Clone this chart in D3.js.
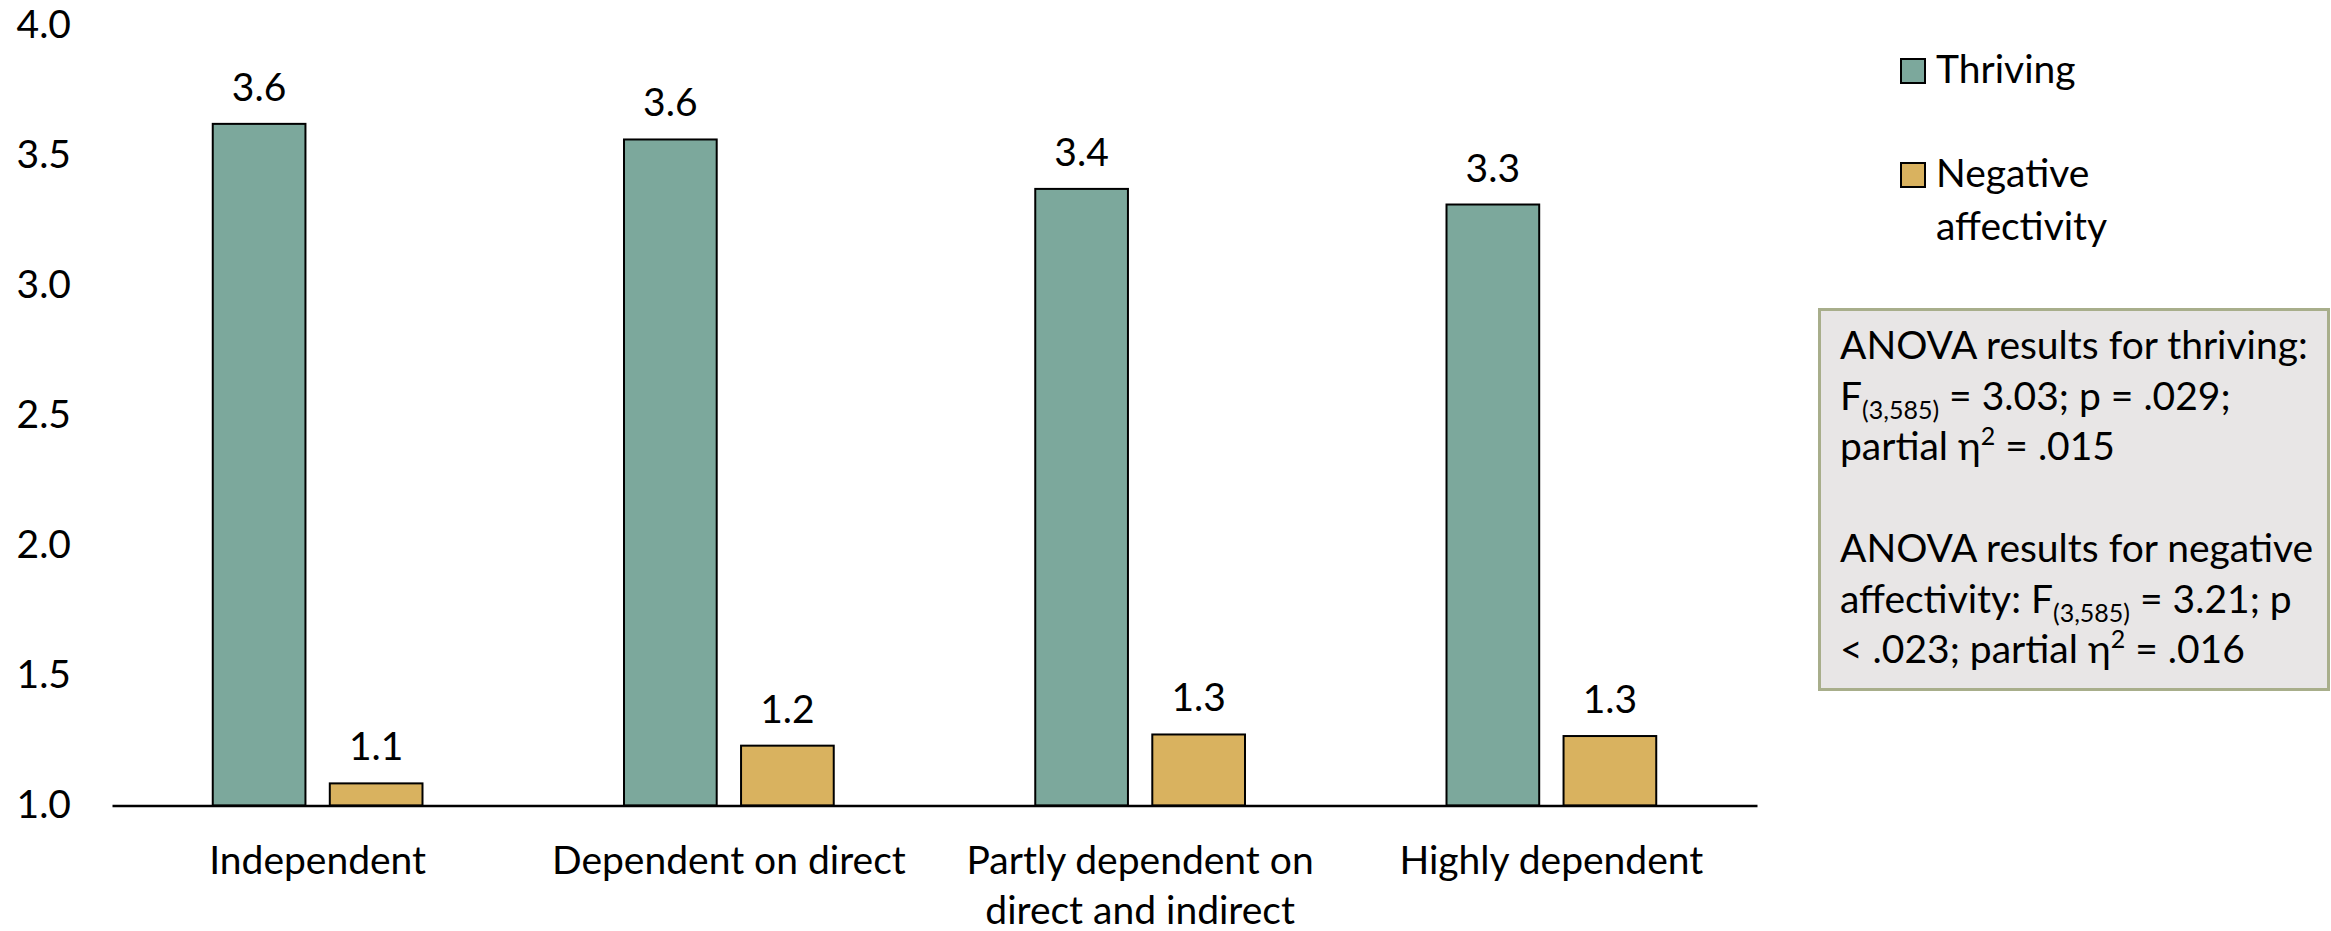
<!DOCTYPE html>
<html>
<head>
<meta charset="utf-8">
<script src="https://cdn.jsdelivr.net/npm/d3@7"></script>
<style>
  body { margin: 0; background: #fff; }
  svg text { font-family: Lato, "Open Sans", sans-serif; fill: #000; }
</style>
</head>
<body>
<div id="wrapper"></div>
<script>
// data
const categories = ["Independent", "Dependent on direct", "Partly dependent on direct and indirect", "Highly dependent"];
const categoryLines = [["Independent"], ["Dependent on direct"], ["Partly dependent on", "direct and indirect"], ["Highly dependent"]];
const series = ["Thriving", "Negative affectivity"];
const thriving = [3.62, 3.56, 3.37, 3.31];
const negativeAffectivity = [1.085, 1.23, 1.273, 1.267];
const yTicks = [1.0, 1.5, 2.0, 2.5, 3.0, 3.5, 4.0];
const legendLines = [["Thriving"], ["Negative", "affectivity"]];
// annotation text: [text, kind] pieces per line
const annotationLines = [
  [["ANOVA results for thriving:"]],
  [["F"], ["(3,585)", "sub"], [" = 3.03; p = .029;"]],
  [["partial η"], ["2", "sup"], [" = .015"]],
  [],
  [["ANOVA results for negative"]],
  [["affectivity: F"], ["(3,585)", "sub"], [" = 3.21; p"]],
  [["< .023; partial η"], ["2", "sup"], [" = .016"]],
];

const colors = { "Thriving": "#7ca89c", "Negative affectivity": "#d9b25f" };
const fontSize = "39px";

function drawChart() {
  const dimensions = {
    width: 2331,
    height: 931,
    margin: { top: 25, right: 574, bottom: 125.5, left: 112 },
  };
  dimensions.boundWidth = dimensions.width - dimensions.margin.left - dimensions.margin.right;
  dimensions.boundHeight = dimensions.height - dimensions.margin.top - dimensions.margin.bottom;

  const wrapper = d3.select("#wrapper")
    .append("svg")
    .attr("width", dimensions.width)
    .attr("height", dimensions.height);
  const bounds = wrapper.append("g")
    .attr("transform", `translate(${dimensions.margin.left},${dimensions.margin.top})`);

  // scales
  const x0 = d3.scaleBand()
    .domain(categories)
    .range([0, dimensions.boundWidth]);
  const x1 = d3.scaleBand()
    .domain(series)
    .range([0, x0.bandwidth() * 0.51])
    .paddingInner(0.208);
  const groupOffset = (x0.bandwidth() - x0.bandwidth() * 0.51) / 2;
  const yScale = d3.scaleLinear()
    .domain([1, 4])
    .range([dimensions.boundHeight, 0]);

  const rows = categories.map((c, i) => ({
    category: c,
    values: [
      { key: "Thriving", value: thriving[i] },
      { key: "Negative affectivity", value: negativeAffectivity[i] },
    ],
  }));

  // bars
  const groups = bounds.selectAll(".group")
    .data(rows)
    .join("g")
    .attr("class", "group")
    .attr("transform", d => `translate(${x0(d.category) + groupOffset},0)`);

  groups.selectAll("rect")
    .data(d => d.values)
    .join("rect")
    .attr("x", d => x1(d.key))
    .attr("y", d => yScale(d.value))
    .attr("width", x1.bandwidth())
    .attr("height", d => yScale(1) - yScale(d.value))
    .attr("fill", d => colors[d.key])
    .attr("stroke", "#000")
    .attr("stroke-width", 2);

  groups.selectAll(".value")
    .data(d => d.values)
    .join("text")
    .attr("class", "value")
    .attr("x", d => x1(d.key) + x1.bandwidth() / 2)
    .attr("y", d => yScale(d.value) - 23)
    .attr("text-anchor", "middle")
    .style("font-size", fontSize)
    .text(d => d3.format(".1f")(d.value));

  // y axis (labels only)
  const yAxisGenerator = d3.axisLeft(yScale)
    .tickValues(yTicks)
    .tickFormat(d3.format(".1f"))
    .tickSize(0)
    .tickPadding(41);
  const yAxis = bounds.append("g").call(yAxisGenerator);
  yAxis.select(".domain").remove();
  yAxis.selectAll("text")
    .attr("font-family", null)
    .style("font-size", fontSize)
    .attr("fill", "#000");

  // x axis
  const xAxisGenerator = d3.axisBottom(x0).tickSize(0).tickFormat("");
  const xAxis = bounds.append("g")
    .attr("transform", `translate(0,${dimensions.boundHeight})`)
    .call(xAxisGenerator);
  xAxis.select(".domain")
    .attr("stroke", "#000")
    .attr("stroke-width", 2.5);
  xAxis.selectAll(".tick text").remove();
  xAxis.selectAll(".tick")
    .append("text")
    .attr("text-anchor", "middle")
    .attr("y", 68.5)
    .style("font-size", fontSize)
    .selectAll("tspan")
    .data((d, i) => categoryLines[i])
    .join("tspan")
    .attr("x", 0)
    .attr("dy", (d, i) => i === 0 ? 0 : 50)
    .text(d => d);

  // legend
  const legend = wrapper.append("g").attr("transform", "translate(1901,0)");
  const legendItems = legend.selectAll("g")
    .data(series)
    .join("g")
    .attr("transform", (d, i) => `translate(0,${i === 0 ? 59 : 163})`);
  legendItems.append("rect")
    .attr("width", 24)
    .attr("height", 24)
    .attr("fill", d => colors[d])
    .attr("stroke", "#000")
    .attr("stroke-width", 2);
  legendItems.append("text")
    .attr("x", 35)
    .attr("y", 24)
    .style("font-size", fontSize)
    .selectAll("tspan")
    .data((d, i) => legendLines[i])
    .join("tspan")
    .attr("x", 35)
    .attr("dy", (d, i) => i === 0 ? 0 : 53)
    .text(d => d);

  // annotation box
  const box = wrapper.append("g").attr("transform", "translate(1819.5,309.5)");
  box.append("rect")
    .attr("width", 509)
    .attr("height", 380)
    .attr("fill", "#e8e6e6")
    .attr("stroke", "#a8ae8b")
    .attr("stroke-width", 3);
  const boxText = box.append("text").style("font-size", fontSize);
  annotationLines.forEach((line, i) => {
    const lineY = 49.5 + i * 50.7;
    line.forEach((piece, j) => {
      const t = boxText.append("tspan").text(piece[0]);
      if (j === 0) t.attr("x", 20.5).attr("y", lineY);
      if (piece[1] === "sub") t.attr("dy", 9).style("font-size", "25px");
      if (piece[1] === "sup") t.attr("dy", -15).style("font-size", "25px");
      const prev = line[j - 1];
      if (j > 0 && prev[1] === "sub") t.attr("dy", -9);
      if (j > 0 && prev[1] === "sup") t.attr("dy", 15);
    });
  });
}
drawChart();
</script>
</body>
</html>
